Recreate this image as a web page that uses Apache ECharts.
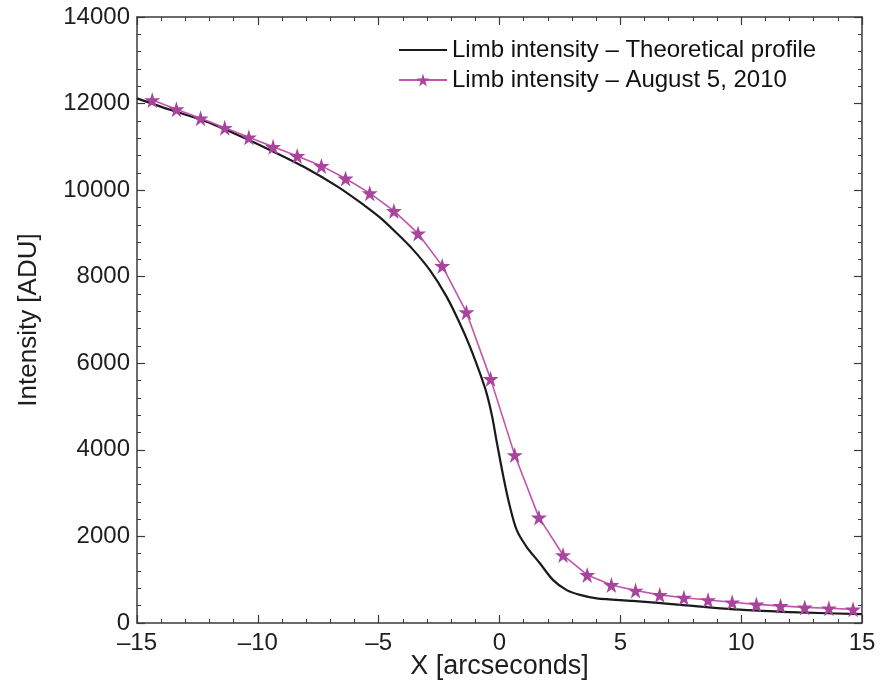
<!DOCTYPE html>
<html>
<head>
<meta charset="utf-8">
<script src="https://cdn.jsdelivr.net/npm/echarts@6/dist/echarts.min.js"></script>
<style>
  html, body { margin: 0; padding: 0; background: #fff; }
  #limbChart { width: 881px; height: 682px; }
</style>
</head>
<body>
<div id="limbChart"></div>
<script>
// theoretical limb profile
var theoX = [-15, -13.6, -12.2, -10.9, -9.5, -8.1, -6.7, -5.6, -4.95, -4.26, -3.57, -2.88, -2.19, -1.64, -1.22, -0.81, -0.53, -0.3, -0.12,
  0.16, 0.43, 0.71, 1.12, 1.67, 2.22, 2.78, 3.33, 4.02, 5.5, 7.6, 9.7, 12.4, 15];
var theoY = [12120, 11850, 11600, 11290, 10930, 10540, 10080, 9650, 9370, 9010, 8620, 8150, 7540, 6920, 6380, 5770, 5300, 4760, 4200,
  3380, 2690, 2150, 1760, 1380, 990, 760, 650, 570, 510, 415, 315, 245, 205];

// observed limb profile, August 5, 2010
var obsX = [-14.37, -13.37, -12.37, -11.37, -10.37, -9.37, -8.37, -7.37, -6.37, -5.37, -4.37, -3.37, -2.37, -1.37, -0.37,
  0.63, 1.63, 2.63, 3.63, 4.63, 5.63, 6.63, 7.63, 8.63, 9.63, 10.63, 11.63, 12.63, 13.63, 14.63];
var obsY = [12080, 11870, 11660, 11440, 11220, 11000, 10790, 10560, 10270, 9930, 9520, 9000, 8250, 7180, 5640,
  3880, 2440, 1570, 1110, 880, 750, 650, 585, 530, 480, 430, 395, 360, 340, 315];

var legendNames = ['Limb intensity \u2013 Theoretical profile', 'Limb intensity \u2013 August 5, 2010'];
var xTicks = [-15, 15, 5];
var yTicks = [0, 14000, 2000];

var starPath = 'path://M50,0 L61,35 L98,35 L68,57 L79,91 L50,70 L21,91 L32,57 L2,35 L39,35 Z';
// tiny dot in a wide empty box, so the legend shows a small point on the line
var dotPath = 'path://M0,0 L0,0.01 M42,42 L58,42 L58,58 L42,58 Z M100,100 L100,100.01';
var frameColor = '#3a3a3a';
var fontFam = '"Liberation Sans", Arial, sans-serif';

function zip(a, b) {
  return a.map(function (v, i) { return [v, b[i]]; });
}

function axisBase(show) {
  return {
    axisLine: { show: true, onZero: false, lineStyle: { color: frameColor, width: 1.5 } },
    axisTick: { show: true, inside: true, length: 8, lineStyle: { color: frameColor, width: 1.2 } },
    minorTick: { show: true, splitNumber: 5, length: 4, lineStyle: { color: frameColor, width: 1 } },
    splitLine: { show: false },
    axisLabel: { show: show, color: '#1e1e1e', fontSize: 24, fontFamily: fontFam }
  };
}

var myChart = echarts.init(document.getElementById('limbChart'));
var xa = axisBase(true), xb = axisBase(false), ya = axisBase(true), yb = axisBase(false);

myChart.setOption({
  animation: false,
  backgroundColor: '#fff',
  grid: { left: 137, right: 19, top: 17, bottom: 59, outerBoundsMode: 'none' },
  legend: {
    left: 393,
    top: 33,
    orient: 'vertical',
    itemWidth: 48,
    itemHeight: 16,
    itemGap: 6,
    textStyle: { color: '#111', fontSize: 24, fontFamily: fontFam },
    data: legendNames
  },
  xAxis: [
    Object.assign(xa, {
      type: 'value', min: xTicks[0], max: xTicks[1], interval: xTicks[2],
      position: 'bottom',
      name: 'X [arcseconds]', nameLocation: 'middle', nameGap: 30,
      nameMoveOverlap: false,
      nameTextStyle: { color: '#1e1e1e', fontSize: 27, fontFamily: fontFam },
      axisLabel: Object.assign(xa.axisLabel, {
        margin: 8,
        formatter: function (v) { return v < 0 ? '\u2013' + Math.abs(v) : String(v); }
      })
    }),
    Object.assign(xb, { type: 'value', min: xTicks[0], max: xTicks[1], interval: xTicks[2], position: 'top' })
  ],
  yAxis: [
    Object.assign(ya, {
      type: 'value', min: yTicks[0], max: yTicks[1], interval: yTicks[2],
      position: 'left',
      name: 'Intensity [ADU]', nameLocation: 'middle', nameGap: 95,
      nameMoveOverlap: false,
      nameTextStyle: { color: '#1e1e1e', fontSize: 26, fontFamily: fontFam },
      axisLabel: Object.assign(ya.axisLabel, {
        margin: 7,
        formatter: function (v) { return String(v); }
      })
    }),
    Object.assign(yb, { type: 'value', min: yTicks[0], max: yTicks[1], interval: yTicks[2], position: 'right' })
  ],
  series: [
    {
      name: legendNames[0],
      type: 'line',
      data: zip(theoX, theoY),
      smooth: 0.3,
      symbol: dotPath,
      showSymbol: false,
      lineStyle: { color: '#1a1a1a', width: 2.2 },
      itemStyle: { color: '#1a1a1a' }
    },
    {
      name: legendNames[1],
      type: 'line',
      data: zip(obsX, obsY),
      symbol: starPath,
      symbolSize: 16,
      lineStyle: { color: '#c055b0', width: 1.6 },
      itemStyle: { color: '#a8449c' }
    }
  ]
});

window.addEventListener('resize', function () {
  myChart.resize();
});
</script>
</body>
</html>
